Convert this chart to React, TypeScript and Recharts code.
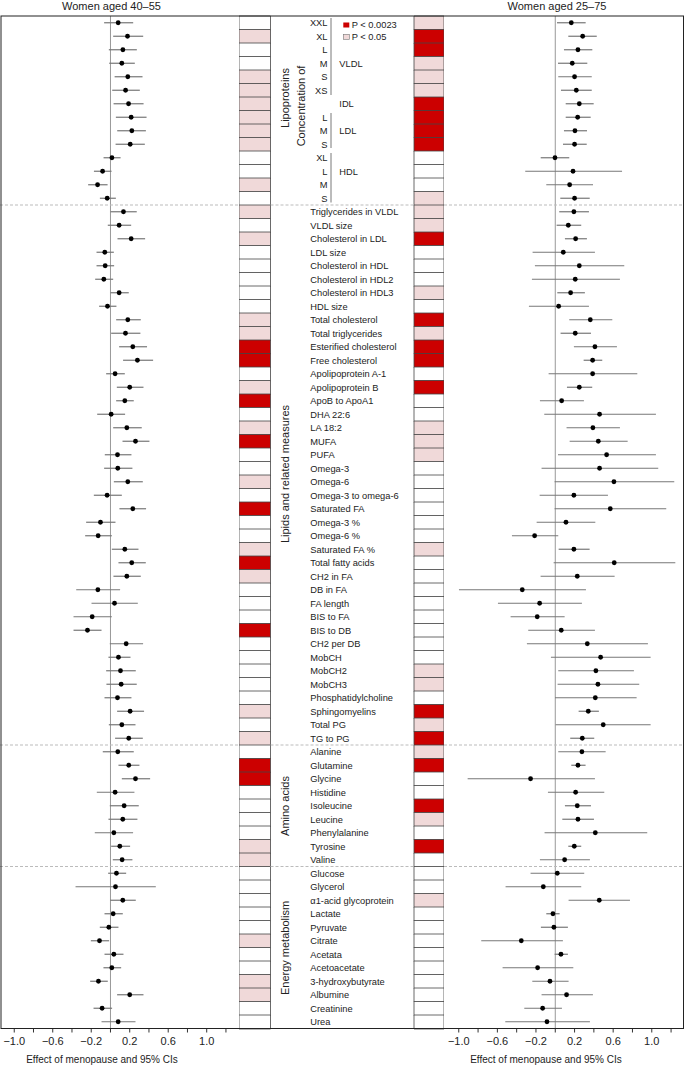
import React from "react";
import {
  ScatterChart,
  Scatter,
  ErrorBar,
  XAxis,
  YAxis,
  ReferenceLine,
  BarChart,
  Bar,
  Cell,
} from "recharts";

// row labels, grouped as in the figure
const lipoSizes = ["XXL", "XL", "L", "M", "S", "XS", "", "L", "M", "S", "XL", "L", "M", "S"];
const lipoClasses = ["VLDL", "IDL", "LDL", "HDL"];
const lipoClassRows = [3, 6, 8, 11];
const lipidLabels = [
  "Triglycerides in VLDL", "VLDL size", "Cholesterol in LDL", "LDL size",
  "Cholesterol in HDL", "Cholesterol in HDL2", "Cholesterol in HDL3", "HDL size",
  "Total cholesterol", "Total triglycerides", "Esterified cholesterol", "Free cholesterol",
  "Apolipoprotein A-1", "Apolipoprotein B", "ApoB to ApoA1", "DHA 22:6", "LA 18:2",
  "MUFA", "PUFA", "Omega-3", "Omega-6", "Omega-3 to omega-6", "Saturated FA",
  "Omega-3 %", "Omega-6 %", "Saturated FA %", "Total fatty acids", "CH2 in FA",
  "DB in FA", "FA length", "BIS to FA", "BIS to DB", "CH2 per DB", "MobCH", "MobCH2",
  "MobCH3", "Phosphatidylcholine", "Sphingomyelins", "Total PG", "TG to PG",
];
const aminoLabels = [
  "Alanine", "Glutamine", "Glycine", "Histidine", "Isoleucine", "Leucine",
  "Phenylalanine", "Tyrosine", "Valine",
];
const energyLabels = [
  "Glucose", "Glycerol", "\u03b11-acid glycoprotein", "Lactate", "Pyruvate", "Citrate",
  "Acetata", "Acetoacetate", "3-hydroxybutyrate", "Albumine", "Creatinine", "Urea",
];

// women aged 40-55
const leftEst = [
  0.08, 0.177, 0.129, 0.118, 0.18, 0.157, 0.188, 0.215, 0.222, 0.205, 0.015, -0.082, -0.134, -0.034,
  0.135, 0.09, 0.215, -0.059, -0.055, -0.069, 0.09, -0.031, 0.18, 0.156, 0.232, 0.28, 0.048, 0.2,
  0.149, 0.007, 0.17, 0.26, 0.073, 0.076, 0.18, -0.035, 0.232, -0.104, -0.128, 0.149, 0.221, 0.17,
  -0.131, 0.042, -0.19, -0.239, 0.163, 0.083, 0.104, 0.111, 0.073, 0.204, 0.118, 0.19,
  0.076, 0.19, 0.26, 0.048, 0.142, 0.128, 0.035, 0.097, 0.121,
  0.062, 0.052, 0.128, 0.028, -0.017, -0.114, 0.035, 0.014, -0.125, 0.2, -0.087, 0.08,
];
const leftLo = [
  -0.066, 0.028, -0.017, -0.013, 0.043, 0.018, 0.032, 0.056, 0.07, 0.053, -0.072, -0.172, -0.232, -0.11,
  0, -0.028, 0.073, -0.145, -0.145, -0.159, 0, -0.118, 0.059, 0.007, 0.09, 0.131, -0.045, 0.066,
  0.059, -0.138, 0.028, 0.125, -0.059, -0.066, 0.035, -0.173, 0.093, -0.253, -0.263, 0.014, 0.083, 0.031,
  -0.356, -0.197, -0.384, -0.384, -0.007, -0.021, -0.045, -0.042, -0.062, 0.069, -0.017, 0.048,
  -0.08, 0.083, 0.118, -0.142, -0.007, -0.021, -0.163, 0.007, 0.024,
  -0.024, -0.363, -0.003, -0.062, -0.111, -0.204, -0.062, -0.073, -0.211, 0.069, -0.176, -0.093,
];
const leftHi = [
  0.236, 0.34, 0.274, 0.253, 0.333, 0.305, 0.344, 0.375, 0.368, 0.357, 0.105, 0.011, -0.03, 0.056,
  0.273, 0.215, 0.36, 0.035, 0.038, 0.028, 0.19, 0.062, 0.315, 0.311, 0.38, 0.443, 0.149, 0.343,
  0.242, 0.152, 0.325, 0.405, 0.218, 0.228, 0.336, 0.118, 0.37, 0.052, 0.014, 0.291, 0.367, 0.315,
  0.1, 0.284, 0.014, -0.093, 0.339, 0.208, 0.263, 0.273, 0.218, 0.349, 0.26, 0.336,
  0.242, 0.301, 0.412, 0.249, 0.294, 0.28, 0.235, 0.204, 0.228,
  0.163, 0.471, 0.263, 0.128, 0.083, -0.014, 0.135, 0.111, -0.028, 0.343, 0.017, 0.26,
];
// 0 = n.s., 1 = P < 0.05, 2 = P < 0.0023
const leftSig = [
  0, 1, 0, 0, 1, 1, 1, 1, 1, 1, 0, 0, 1, 0,
  1, 0, 1, 0, 0, 0, 0, 0, 1, 1, 2, 2, 0, 1, 2, 0, 1, 2,
  0, 0, 1, 0, 2, 0, 0, 1, 2, 1, 0, 0, 0, 2, 0, 0, 0, 0, 0, 1, 0, 1,
  0, 2, 2, 0, 0, 0, 0, 1, 1,
  0, 0, 0, 0, 0, 1, 0, 0, 1, 1, 0, 0,
];

// women aged 25-75
const rightEst = [
  0.166, 0.284, 0.235, 0.176, 0.2, 0.218, 0.249, 0.232, 0.204, 0.2, -0.003, 0.184, 0.149, 0.2,
  0.193, 0.135, 0.211, 0.083, 0.249, 0.207, 0.159, 0.035, 0.363, 0.207, 0.411, 0.387, 0.387, 0.249,
  0.066, 0.459, 0.39, 0.446, 0.532, 0.459, 0.608, 0.193, 0.57, 0.111, -0.214, 0.193, 0.611, 0.228,
  -0.342, -0.162, -0.187, 0.062, 0.332, 0.47, 0.421, 0.442, 0.415, 0.342, 0.497, 0.28,
  0.276, 0.235, -0.256, 0.211, 0.228, 0.235, 0.415, 0.197, 0.097,
  0.021, -0.124, 0.456, -0.024, -0.014, -0.352, 0.059, -0.183, -0.055, 0.117, -0.131, -0.086,
];
const rightLo = [
  0.018, 0.135, 0.09, 0.028, 0.031, 0.059, 0.108, 0.108, 0.09, 0.08, -0.151, -0.311, -0.093, 0.052,
  0.041, 0.014, 0.1, -0.235, -0.211, -0.242, 0.021, -0.273, 0.145, 0.055, 0.193, 0.294, -0.069, 0.121,
  -0.159, -0.114, 0.117, 0.149, 0.028, -0.142, -0.007, -0.162, -0.007, -0.193, -0.449, 0.035, -0.017, -0.152,
  -0.998, -0.594, -0.463, -0.28, -0.294, -0.045, 0.031, 0.024, -0.003, 0.242, 0.003, 0.155,
  0.031, 0.166, -0.908, -0.076, 0.1, 0.073, -0.111, 0.135, -0.159,
  -0.256, -0.515, 0.138, -0.093, -0.149, -0.767, -0.007, -0.546, -0.238, -0.142, -0.321, -0.518,
];
const rightHi = [
  0.315, 0.43, 0.384, 0.332, 0.378, 0.378, 0.398, 0.367, 0.329, 0.326, 0.145, 0.692, 0.391, 0.357,
  0.349, 0.269, 0.328, 0.411, 0.715, 0.67, 0.307, 0.349, 0.591, 0.37, 0.639, 0.487, 0.85, 0.383,
  0.297, 1.043, 0.67, 0.75, 1.043, 1.067, 1.233, 0.546, 1.15, 0.415, 0.031, 0.356, 1.244, 0.615,
  0.318, 0.276, 0.097, 0.411, 0.96, 0.988, 0.815, 0.87, 0.843, 0.452, 0.988, 0.404,
  0.522, 0.314, 0.411, 0.508, 0.37, 0.401, 0.953, 0.269, 0.359,
  0.3, 0.269, 0.774, 0.045, 0.131, 0.079, 0.131, 0.187, 0.138, 0.39, 0.069, 0.359,
];
const rightSig = [
  1, 2, 2, 1, 1, 1, 2, 2, 2, 2, 0, 0, 0, 1,
  1, 1, 2, 0, 0, 0, 1, 0, 2, 1, 2, 2, 0, 2, 0, 0, 1, 1,
  1, 0, 0, 0, 0, 0, 0, 1, 0, 0, 0, 0, 0, 0, 0, 0, 1, 1, 0, 2, 1, 2,
  1, 2, 0, 0, 2, 1, 0, 2, 0,
  0, 0, 1, 0, 0, 0, 0, 0, 0, 0, 0, 0,
];

const xTicks = [-1, -0.8, -0.6, -0.4, -0.2, 0, 0.2, 0.4, 0.6, 0.8, 1, 1.2];
const shownTicks = [-10, -6, -2, 2, 6, 10];
const groupEnds = [14, 54, 63];
const axisTitle = "Effect of menopause and 95% CIs";

const FONT = "'Liberation Sans', Arial, Helvetica, sans-serif";
const N = 75;
const TOP = 16;
const ROW_H = 13.5;
const BOTTOM = TOP + N * ROW_H;
const SIG_FILL = ["#ffffff", "#f0d9d9", "#cc0000"];

const rowY = (i: number) => TOP + (i + 0.5) * ROW_H;

const fmtTick = (v: number) => {
  if (!shownTicks.includes(Math.round(v * 10))) return "";
  return (v < 0 ? "\u2212" : "") + Math.abs(v).toFixed(1);
};

function Forest({ est, lo, hi, domain }: { est: number[]; lo: number[]; hi: number[]; domain: number[] }) {
  const data = est.map((e, i) => ({ x: e, row: i + 0.5, err: [e - lo[i], hi[i] - e] }));
  return (
    <ScatterChart width={240} height={1066} margin={{ top: TOP, right: 0, bottom: 0, left: 0 }}>
      <XAxis
        type="number"
        dataKey="x"
        domain={domain}
        allowDataOverflow
        ticks={xTicks}
        interval={0}
        tickFormatter={fmtTick}
        axisLine={false}
        tickLine={{ stroke: "#333" }}
        tickSize={4}
        tickMargin={5}
        height={1066 - BOTTOM}
        tick={{ fontSize: 11, fill: "#222", fontFamily: FONT }}
      />
      <YAxis type="number" dataKey="row" domain={[0, N]} reversed hide />
      <ReferenceLine x={0} stroke="#999" strokeWidth={1} />
      {groupEnds.map((g) => (
        <ReferenceLine key={g} y={g} stroke="#bbb" strokeDasharray="3 2" />
      ))}
      <Scatter
        data={data}
        isAnimationActive={false}
        shape={(p: any) => <circle cx={p.cx} cy={p.cy} r={2.4} fill="#000" />}
      >
        <ErrorBar dataKey="err" direction="x" width={0} stroke="#777" strokeWidth={1.2} />
      </Scatter>
    </ScatterChart>
  );
}

function SigColumns() {
  const rows = leftSig.map((s, i) => ({ key: "r" + i, a: 31.5, gap: 143.5, b: 30 }));
  return (
    <BarChart
      width={205}
      height={1066}
      data={rows}
      layout="vertical"
      barCategoryGap={0}
      margin={{ top: TOP, right: 0, bottom: 1066 - BOTTOM, left: 0 }}
    >
      <XAxis type="number" domain={[0, 205]} hide />
      <YAxis type="category" dataKey="key" hide />
      <Bar dataKey="a" stackId="s" isAnimationActive={false} stroke="#444" strokeWidth={0.8}>
        {leftSig.map((s, i) => (
          <Cell key={i} fill={SIG_FILL[s]} />
        ))}
      </Bar>
      <Bar dataKey="gap" stackId="s" isAnimationActive={false} fill="none" />
      <Bar dataKey="b" stackId="s" isAnimationActive={false} stroke="#444" strokeWidth={0.8}>
        {rightSig.map((s, i) => (
          <Cell key={i} fill={SIG_FILL[s]} />
        ))}
      </Bar>
    </BarChart>
  );
}

function Labels() {
  const otherLabels = [...lipidLabels, ...aminoLabels, ...energyLabels];
  const txt = { fontFamily: FONT, fontSize: 9.3, fill: "#222" };
  const group = { fontFamily: FONT, fontSize: 11, fill: "#222", textAnchor: "middle" as const };
  return (
    <svg width={685} height={1066} style={{ position: "absolute", left: 0, top: 0, pointerEvents: "none" }}>
      <text x={111.5} y={10} textAnchor="middle" fontSize={11} fontFamily={FONT} fill="#222">
        Women aged 40–55
      </text>
      <text x={557} y={10} textAnchor="middle" fontSize={11} fontFamily={FONT} fill="#222">
        Women aged 25–75
      </text>
      <text x={102} y={1063} textAnchor="middle" fontSize={10} fontFamily={FONT} fill="#222">
        {axisTitle}
      </text>
      <text x={546} y={1063} textAnchor="middle" fontSize={10} fontFamily={FONT} fill="#222">
        {axisTitle}
      </text>
      <rect x={1} y={TOP} width={682.5} height={BOTTOM - TOP} fill="none" stroke="#222" strokeWidth={1} />
      {groupEnds.map((g) => (
        <line key={g} x1={270.5} x2={414} y1={TOP + g * ROW_H} y2={TOP + g * ROW_H} stroke="#bbb" strokeDasharray="3 2" />
      ))}

      {lipoSizes.map((s, i) => (
        <text key={"s" + i} x={327.5} y={rowY(i) + 3.4} textAnchor="end" {...txt}>
          {s}
        </text>
      ))}
      {lipoClasses.map((c, k) => (
        <text key={c} x={339.3} y={rowY(lipoClassRows[k]) + 3.4} {...txt}>
          {c}
        </text>
      ))}
      <line x1={331} x2={331} y1={18} y2={95} stroke="#555" strokeWidth={0.8} />
      <line x1={331} x2={331} y1={113} y2={148} stroke="#555" strokeWidth={0.8} />
      <line x1={331} x2={331} y1={153} y2={202.5} stroke="#555" strokeWidth={0.8} />

      <rect x={343.3} y={22.5} width={6} height={5} fill={SIG_FILL[2]} />
      <text x={351.7} y={28.4} {...txt}>P &lt; 0.0023</text>
      <rect x={343.3} y={34.3} width={6} height={5} fill={SIG_FILL[1]} stroke="#777" strokeWidth={0.6} />
      <text x={351.7} y={40.2} {...txt}>P &lt; 0.05</text>

      {otherLabels.map((l, k) => (
        <text key={"l" + k} x={310.3} y={rowY(14 + k) + 3.4} {...txt}>
          {l}
        </text>
      ))}

      <text transform="translate(288.5,98) rotate(-90)" {...group}>Lipoproteins</text>
      <text transform="translate(305,106) rotate(-90)" {...group}>Concentration of</text>
      <text transform="translate(288.5,474) rotate(-90)" {...group}>Lipids and related measures</text>
      <text transform="translate(288.5,806) rotate(-90)" {...group}>Amino acids</text>
      <text transform="translate(288.5,948) rotate(-90)" {...group}>Energy metabolism</text>
    </svg>
  );
}

export default function App() {
  return (
    <div style={{ position: "absolute", left: 0, top: 0, width: 685, height: 1066, background: "#fff" }}>
      <div style={{ position: "absolute", left: 0, top: 0 }}>
        <Forest est={leftEst} lo={leftLo} hi={leftHi} domain={[-1.148, 1.346]} />
      </div>
      <div style={{ position: "absolute", left: 239, top: 0 }}>
        <SigColumns />
      </div>
      <div style={{ position: "absolute", left: 444, top: 0 }}>
        <Forest est={rightEst} lo={rightLo} hi={rightHi} domain={[-1.153, 1.334]} />
      </div>
      <Labels />
    </div>
  );
}
